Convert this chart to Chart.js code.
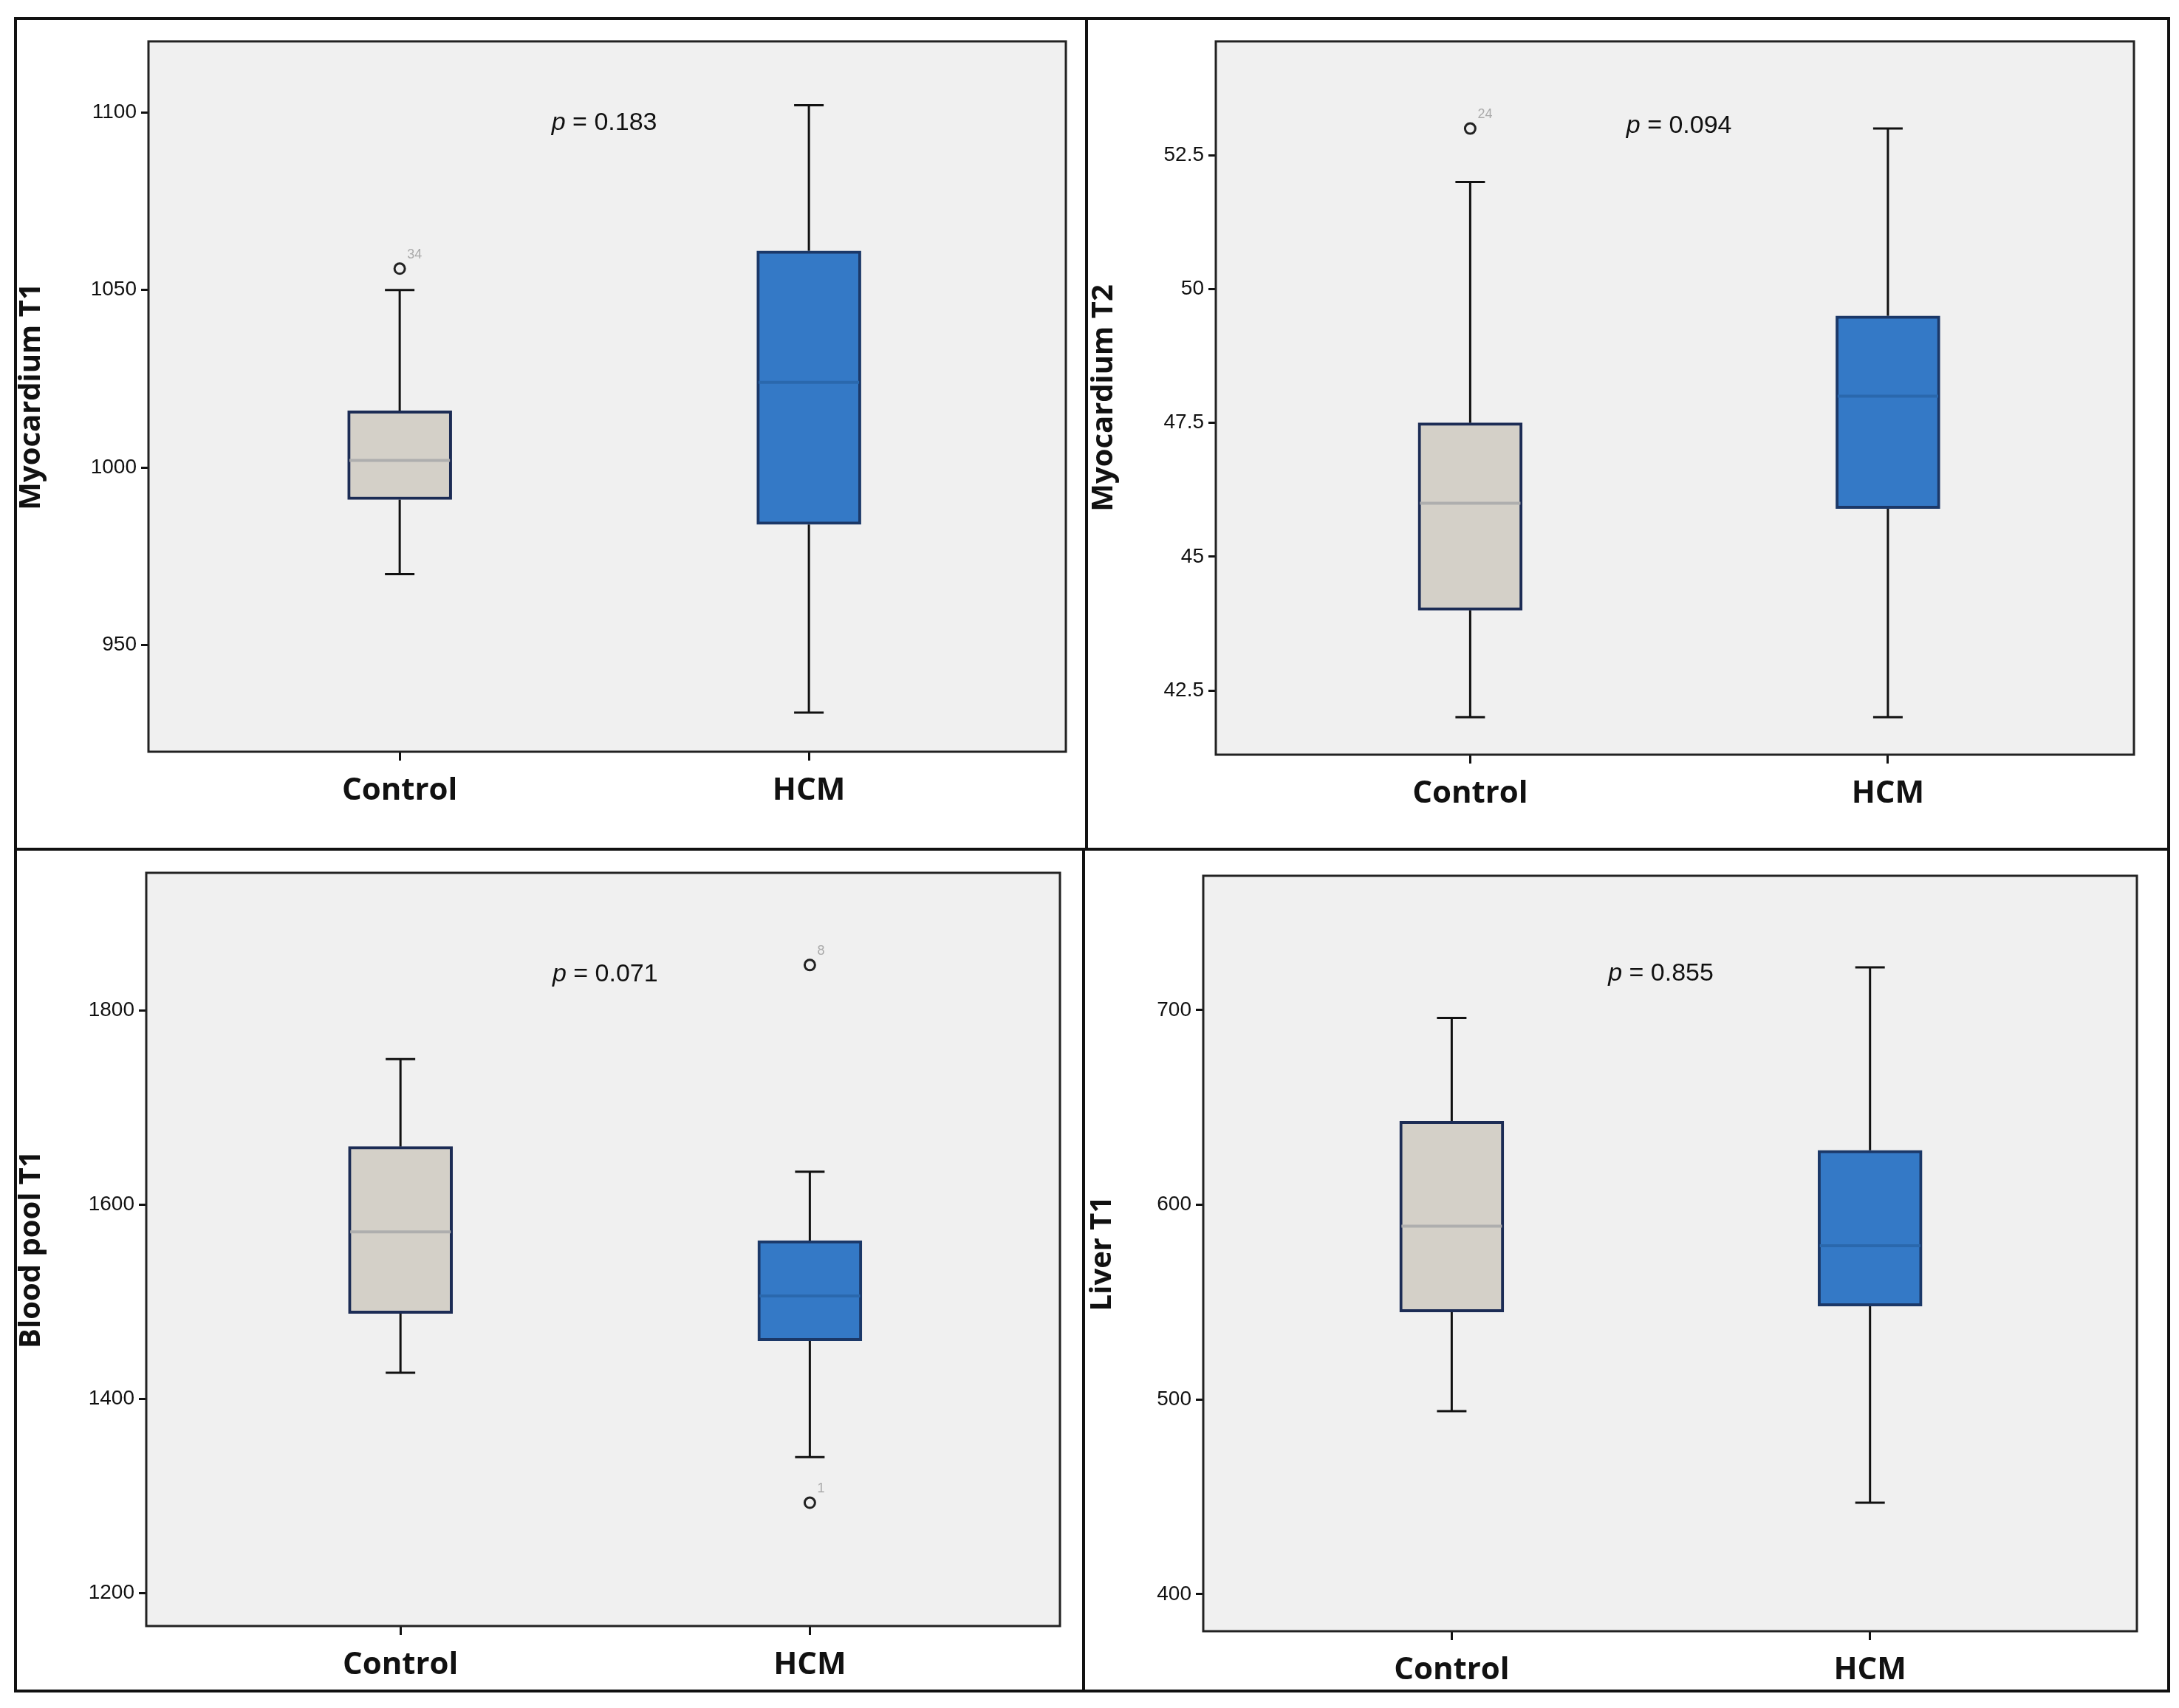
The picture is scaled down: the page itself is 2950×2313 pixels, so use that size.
<!DOCTYPE html>
<html>
<head>
<meta charset="utf-8">
<script src="https://cdn.jsdelivr.net/npm/chart.js@4.4.0/dist/chart.umd.min.js"></script>
<style>
  html, body { margin: 0; padding: 0; background: #fff; }
  body { width: 2950px; height: 2313px; position: relative; overflow: hidden; }
  .cell { position: absolute; }
  .line { position: absolute; background: #111; }
</style>
</head>
<body>
<div class="line" style="left:19px;top:23px;width:2919px;height:4px"></div>
<div class="line" style="left:19px;top:2288px;width:2919px;height:4px"></div>
<div class="line" style="left:19px;top:23px;width:4px;height:2269px"></div>
<div class="line" style="left:2934px;top:23px;width:4px;height:2269px"></div>
<div class="line" style="left:19px;top:1148px;width:2919px;height:4px"></div>
<div class="line" style="left:1469px;top:23px;width:4px;height:1127px"></div>
<div class="line" style="left:1465px;top:1150px;width:4px;height:1142px"></div>

<script>
// groups shared by all panels
const groups = ['Control', 'HCM'];

// Myocardium T1
const t1Low = [970, 931];
const t1Q1 = [991, 984];
const t1Med = [1002, 1024];
const t1Q3 = [1016, 1061];
const t1High = [1050, 1102];
const t1Outliers = [{ g: 0, v: 1056, label: '34' }];
const t1Ticks = [950, 1000, 1050, 1100];

// Myocardium T2
const t2Low = [42, 42];
const t2Q1 = [44, 45.9];
const t2Med = [46, 48];
const t2Q3 = [47.5, 49.5];
const t2High = [52, 53];
const t2Outliers = [{ g: 0, v: 53, label: '24' }];
const t2Ticks = [42.5, 45, 47.5, 50, 52.5];

// Blood pool T1
const bpLow = [1427, 1340];
const bpQ1 = [1488, 1460];
const bpMed = [1572, 1506];
const bpQ3 = [1660, 1563];
const bpHigh = [1750, 1634];
const bpOutliers = [{ g: 1, v: 1847, label: '8' }, { g: 1, v: 1293, label: '1' }];
const bpTicks = [1200, 1400, 1600, 1800];

// Liver T1
const lvLow = [494, 447];
const lvQ1 = [545, 548];
const lvMed = [589, 579];
const lvQ3 = [643, 628];
const lvHigh = [696, 722];
const lvOutliers = [];
const lvTicks = [400, 500, 600, 700];

const fills = ['#d4d0c8', '#3479c6'];
const borders = ['#1c2c55', '#1b3868'];
const medians = ['#aeaeae', '#2a68ad'];

const panels = [
  { title: 'Myocardium T1', low: t1Low, q1: t1Q1, med: t1Med, q3: t1Q3, high: t1High, out: t1Outliers, ticks: t1Ticks,
    ymin: 920, ymax: 1120, xmin: 0.386, xmax: 2.628, p: '0.183', py: 1097,
    cell: [19, 23, 1452, 1127], plot: [201, 56, 1443, 1018] },
  { title: 'Myocardium T2', low: t2Low, q1: t2Q1, med: t2Med, q3: t2Q3, high: t2High, out: t2Outliers, ticks: t2Ticks,
    ymin: 41.3, ymax: 54.63, xmin: 0.391, xmax: 2.589, p: '0.094', py: 53.05,
    cell: [1471, 23, 1467, 1127], plot: [1646, 56, 2889, 1022] },
  { title: 'Blood pool T1', low: bpLow, q1: bpQ1, med: bpMed, q3: bpQ3, high: bpHigh, out: bpOutliers, ticks: bpTicks,
    ymin: 1166, ymax: 1942, xmin: 0.379, xmax: 2.611, p: '0.071', py: 1837,
    cell: [19, 1150, 1448, 1142], plot: [198, 1182, 1435, 2202] },
  { title: 'Liver T1', low: lvLow, q1: lvQ1, med: lvMed, q3: lvQ3, high: lvHigh, out: lvOutliers, ticks: lvTicks,
    ymin: 381, ymax: 769, xmin: 0.406, xmax: 2.638, p: '0.855', py: 718.6,
    cell: [1469, 1150, 1469, 1142], plot: [1629, 1186, 2893, 2209] },
];

const boxPlugin = {
  id: 'boxExtras',
  beforeDatasetsDraw(chart) {
    const { ctx, chartArea: a } = chart;
    ctx.save();
    ctx.fillStyle = '#f0f0f0';
    ctx.fillRect(a.left, a.top, a.right - a.left, a.bottom - a.top);
    const P = chart.options.plugins.boxExtras;
    const xs = chart.scales.x, ys = chart.scales.y;
    ctx.strokeStyle = '#111';
    ctx.lineWidth = 3;
    groups.forEach((g, i) => {
      const x = xs.getPixelForValue(i + 1);
      const lo = ys.getPixelForValue(P.low[i]), hi = ys.getPixelForValue(P.high[i]);
      const b1 = ys.getPixelForValue(P.q1[i]), b3 = ys.getPixelForValue(P.q3[i]);
      ctx.beginPath();
      ctx.moveTo(x, lo); ctx.lineTo(x, b1);
      ctx.moveTo(x, hi); ctx.lineTo(x, b3);
      ctx.moveTo(x - 20, lo); ctx.lineTo(x + 20, lo);
      ctx.moveTo(x - 20, hi); ctx.lineTo(x + 20, hi);
      ctx.stroke();
    });
    ctx.restore();
  },
  afterDatasetsDraw(chart) {
    const { ctx, chartArea: a } = chart;
    const P = chart.options.plugins.boxExtras;
    const xs = chart.scales.x, ys = chart.scales.y;
    ctx.save();
    groups.forEach((g, i) => {
      const x = xs.getPixelForValue(i + 1);
      const m = ys.getPixelForValue(P.med[i]);
      ctx.strokeStyle = medians[i];
      ctx.lineWidth = 4;
      ctx.beginPath();
      ctx.moveTo(x - 68, m); ctx.lineTo(x + 68, m);
      ctx.stroke();
    });
    ctx.fillStyle = '#aaa';
    ctx.font = '18px "Liberation Sans"';
    ctx.textAlign = 'left';
    P.out.forEach(o => {
      const x = xs.getPixelForValue(o.g + 1), y = ys.getPixelForValue(o.v);
      ctx.fillText(o.label, x + 10, y - 14);
    });
    ctx.fillStyle = '#111';
    ctx.textBaseline = 'middle';
    const px = xs.getPixelForValue(1.5), py = ys.getPixelForValue(P.py);
    const rest = ' = ' + P.p;
    ctx.font = '34px "Liberation Sans Narrow", "Liberation Sans"';
    const wr = ctx.measureText(rest).width;
    ctx.font = 'italic 34px "Liberation Sans"';
    const wp = ctx.measureText('p').width;
    ctx.textAlign = 'left';
    const sx = px - (wp + wr) / 2;
    ctx.fillText('p', sx, py);
    ctx.font = '34px "Liberation Sans Narrow", "Liberation Sans"';
    ctx.fillText(rest, sx + wp, py);
    ctx.strokeStyle = '#222';
    ctx.lineWidth = 3;
    ctx.strokeRect(a.left, a.top, a.right - a.left, a.bottom - a.top);
    ctx.restore();
  }
};

panels.forEach(P => {
  const [cl, ct, cw, ch] = P.cell;
  const [pl, pt, pr, pb] = P.plot;
  const div = document.createElement('div');
  div.className = 'cell';
  div.style.cssText = `left:${cl}px;top:${ct}px;width:${cw}px;height:${ch}px`;
  const cv = document.createElement('canvas');
  div.appendChild(cv);
  document.body.appendChild(div);

  new Chart(cv, {
    data: {
      datasets: [
        {
          type: 'bar',
          data: groups.map((g, i) => ({ x: i + 1, y: [P.q1[i], P.q3[i]] })),
          backgroundColor: fills,
          borderColor: borders,
          borderWidth: 4,
          borderSkipped: false,
          barThickness: 141,
        },
        {
          type: 'scatter',
          data: P.out.map(o => ({ x: o.g + 1, y: o.v })),
          pointRadius: 7,
          pointBorderWidth: 3,
          pointBorderColor: '#222',
          pointBackgroundColor: 'rgba(0,0,0,0)',
        }
      ]
    },
    options: {
      responsive: true,
      maintainAspectRatio: false,
      animation: false,
      devicePixelRatio: 1,
      layout: { padding: { top: pt - ct, right: cl + cw - pr, left: 0, bottom: 0 } },
      plugins: { legend: { display: false }, tooltip: { enabled: false }, boxExtras: P },
      scales: {
        x: {
          type: 'linear', min: P.xmin, max: P.xmax, offset: false,
          afterBuildTicks: s => { s.ticks = groups.map((g, i) => ({ value: i + 1 })); },
          afterFit: s => { s.height = ct + ch - pb; },
          grid: { drawOnChartArea: false, offset: false, color: '#111', tickLength: 12, tickWidth: 3 },
          border: { display: false },
          ticks: {
            callback: v => groups[v - 1] || '',
            color: '#111', padding: 16,
            font: { family: '"Open Sans", "Liberation Sans"', weight: 'bold', size: 42 },
          },
        },
        y: {
          min: P.ymin, max: P.ymax,
          afterBuildTicks: s => { s.ticks = P.ticks.map(v => ({ value: v })); },
          afterFit: s => { s.width = pl - cl; },
          grid: { drawOnChartArea: false, color: '#111', tickLength: 10, tickWidth: 3 },
          border: { display: false },
          title: {
            display: true, text: P.title, color: '#111', padding: { top: 0, bottom: 24 },
            font: { family: '"Open Sans", "Liberation Sans"', weight: 'bold', size: 40 },
          },
          ticks: {
            callback: v => String(v),
            color: '#111', padding: 6,
            font: { family: '"Liberation Sans Narrow", "Liberation Sans"', size: 28 },
          },
        },
      },
    },
    plugins: [boxPlugin],
  });
});
</script>
</body>
</html>
